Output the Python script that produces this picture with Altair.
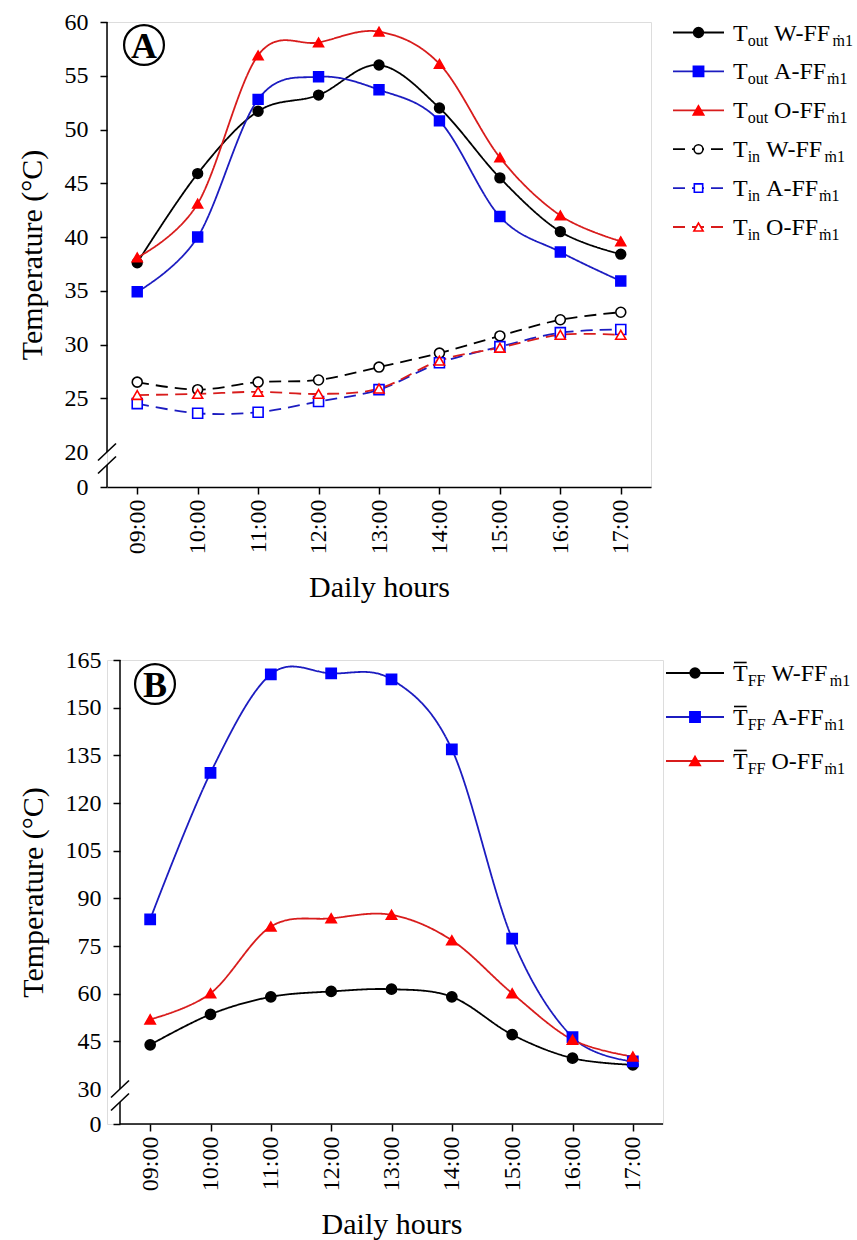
import altair as alt
import pandas as pd

# ---------------------------------------------------------------- data
hours = ["09:00", "10:00", "11:00", "12:00", "13:00",
         "14:00", "15:00", "16:00", "17:00"]

# Panel A: outlet and inlet temperatures (°C)
t_out_w = [37.6, 45.9, 51.7, 53.2, 56.0, 52.0, 45.5, 40.5, 38.4]
t_out_a = [34.9, 40.0, 52.8, 54.9, 53.7, 50.8, 41.9, 38.6, 35.9]
t_out_o = [38.1, 43.1, 56.9, 58.1, 59.1, 56.1, 47.4, 42.0, 39.6]
t_in_w = [26.5, 25.8, 26.5, 26.7, 27.9, 29.2, 30.8, 32.3, 33.0]
t_in_a = [24.5, 23.6, 23.7, 24.7, 25.8, 28.3, 29.8, 31.1, 31.4]
t_in_o = [25.3, 25.4, 25.6, 25.4, 25.9, 28.5, 29.7, 30.9, 30.9]

# Panel B: mean fluid temperature (°C)
t_ff_w = [43.9, 53.5, 59.0, 60.7, 61.4, 59.0, 47.1, 39.7, 37.6]
t_ff_a = [83.4, 129.5, 160.5, 160.8, 158.9, 136.9, 77.3, 46.3, 38.7]
t_ff_o = [51.9, 60.1, 81.1, 83.7, 84.8, 76.8, 60.1, 45.5, 40.2]

ticks_a = [0, 20, 25, 30, 35, 40, 45, 50, 55, 60]
ticks_b = [0, 30, 45, 60, 75, 90, 105, 120, 135, 150, 165]

# ---------------------------------------------------------------- style
FONT = "Liberation Serif"
BLACK, BLUE, RED = "#000000", "#0000ff", "#ff0000"
LINE_BLUE, LINE_RED = "#1c1cc0", "#d81c1c"
SOLID, DASH = [1, 0], [12, 7]

LABEL_SIZE, TITLE_SIZE = 24, 30
LEG_SIZE, SUB_SIZE = 24, 16

# panel A: plot 544 x 465, y axis on the left edge
W_A, H_A, X0_A = 544, 465, 0
# panel B: y axis sits 13 px inside the group (wider tick labels)
W_B, H_B, X0_B = 556, 464, 13

# Times-like advance widths (em) for legend text layout
CHAR_W = {"T": .611, "o": .5, "u": .5, "t": .278, "i": .278, "n": .5,
          "W": .944, "A": .722, "O": .722, "-": .333, "F": .556,
          "\u1e41": .778, "1": .5, " ": .25}


def text_w(s, size):
    return sum(CHAR_W.get(c, .5) for c in s) * size


def long_table(names, series):
    rows = []
    for name, vals in zip(names, series):
        for h, v in zip(hours, vals):
            rows.append({"hour": h, "value": v, "series": name})
    return pd.DataFrame(rows)


def x_enc(x0, width, native_domain):
    return alt.X(
        "hour:N", sort=hours,
        scale=alt.Scale(type="point", padding=0.5, range=[x0, width]),
        axis=alt.Axis(title="Daily hours", labelAngle=-90, labelFontSize=LABEL_SIZE,
                      titleFontSize=TITLE_SIZE, titleFontWeight="normal",
                      titleX=(x0 + width) / 2,
                      titlePadding=19, tickSize=7, labelPadding=5, grid=False,
                      domain=native_domain,
                      domainColor=BLACK, tickColor=BLACK, labelColor=BLACK,
                      titleColor=BLACK, domainWidth=1.5, tickWidth=1.5,
                      labelFont=FONT, titleFont=FONT),
    )


def y_enc(ticks, brk, top, height, x0):
    return alt.Y(
        "value:Q",
        scale=alt.Scale(domain=[0, brk, top], range=[height, height - 35, 0],
                        nice=False, zero=False),
        axis=alt.Axis(title="Temperature (°C)", values=ticks, domain=False, grid=False,
                      offset=-x0,
                      labelFontSize=LABEL_SIZE, titleFontSize=TITLE_SIZE,
                      titleFontWeight="normal", titlePadding=17, tickSize=7,
                      labelPadding=12, tickWidth=1.5, labelColor=BLACK,
                      titleColor=BLACK, labelFont=FONT, titleFont=FONT,
                      tickColor={"condition": {"test": f"datum.value === {brk}",
                                               "value": "transparent"},
                                 "value": BLACK}),
    )


def series_layers(df, names, line_cols, dashes, shapes, fills, strokes, sizes, xenc, yenc):
    lines = alt.Chart(df).mark_line(interpolate="cardinal", strokeWidth=1.8).encode(
        x=xenc, y=yenc,
        color=alt.Color("series:N", scale=alt.Scale(domain=names, range=line_cols), legend=None),
        strokeDash=alt.StrokeDash("series:N", scale=alt.Scale(domain=names, range=dashes), legend=None),
    )
    pts = alt.Chart(df).mark_point(opacity=1, fillOpacity=1, strokeWidth=1.6).encode(
        x=xenc, y=yenc,
        shape=alt.Shape("series:N", scale=alt.Scale(domain=names, range=shapes), legend=None),
        fill=alt.Fill("series:N", scale=alt.Scale(domain=names, range=fills), legend=None),
        stroke=alt.Stroke("series:N", scale=alt.Scale(domain=names, range=strokes), legend=None),
        size=alt.Size("series:N", scale=alt.Scale(domain=names, range=sizes), legend=None),
    )
    return [lines, pts]


def axis_lines(x0, width, height, draw_x_domain):
    # y-axis line drawn in two pieces with a double slash between them
    seg = pd.DataFrame({"k": [0]})
    y1 = height - 35
    y2 = height - 22
    base = alt.Chart(seg)
    parts = [
        base.mark_rule(color=BLACK, strokeWidth=1.5).encode(
            x=alt.value(x0), y=alt.value(0), y2=alt.value(y1)),
        base.mark_rule(color=BLACK, strokeWidth=1.5).encode(
            x=alt.value(x0), y=alt.value(y2), y2=alt.value(height)),
    ]
    for yc in (y1, y2):
        parts.append(base.mark_rule(color=BLACK, strokeWidth=1.6).encode(
            x=alt.value(x0 - 9), x2=alt.value(x0 + 9),
            y=alt.value(yc + 8.5), y2=alt.value(yc - 8.5)))
    if draw_x_domain:
        parts.append(base.mark_rule(color=BLACK, strokeWidth=1.5).encode(
            x=alt.value(x0), x2=alt.value(width), y=alt.value(height)))
    return parts


def panel_tag(letter, cx, cy):
    d = pd.DataFrame({"t": [letter]})
    ring = alt.Chart(d).mark_point(shape="circle", size=1590, filled=False,
                                   stroke=BLACK, strokeWidth=2.2, opacity=1).encode(
        x=alt.value(cx), y=alt.value(cy))
    txt = alt.Chart(d).mark_text(font=FONT, fontSize=36, fontWeight="bold",
                                 align="center", baseline="alphabetic", color=BLACK).encode(
        x=alt.value(cx), y=alt.value(cy + 12.5), text="t:N")
    return [ring, txt]


def legend_layers(entries, line_x0, line_x1, text_x, row0, step, overbar=False):
    texts, solid_rules, dash_rules, marks, bars = [], [], [], [], []
    for i, (sub, name, lcol, mcol, shape, dashed, filled, msize) in enumerate(entries):
        cy = row0 + i * step
        x_sub = text_x + text_w("T", LEG_SIZE)
        x_name = x_sub + text_w(sub, SUB_SIZE) + 6
        x_m = x_name + text_w(name, LEG_SIZE) + 1
        texts += [
            {"px": text_x, "py": cy + 8, "txt": "T", "fs": LEG_SIZE},
            {"px": x_sub, "py": cy + 13, "txt": sub, "fs": SUB_SIZE},
            {"px": x_name, "py": cy + 8, "txt": name, "fs": LEG_SIZE},
            {"px": x_m, "py": cy + 13, "txt": "\u1e41" + "1", "fs": SUB_SIZE},
        ]
        rule = {"px": line_x0, "px2": line_x1, "py": cy, "col": lcol}
        (dash_rules if dashed else solid_rules).append(rule)
        marks.append({"px": (line_x0 + line_x1) / 2, "py": cy, "shp": shape,
                      "fillc": mcol if filled else "#ffffff", "col": mcol, "sz": msize})
        if overbar:
            bars.append({"px": text_x + 1, "px2": text_x + text_w("T", LEG_SIZE) - 1,
                         "py": cy - 10.5})
    layers = []
    px = alt.X("px:Q", scale=None, axis=None)
    py = alt.Y("py:Q", scale=None, axis=None)
    for rules, dash in ((solid_rules, SOLID), (dash_rules, DASH)):
        if rules:
            layers.append(alt.Chart(pd.DataFrame(rules)).mark_rule(
                strokeWidth=1.8, strokeDash=dash).encode(
                x=px, x2="px2:Q", y=py, color=alt.Color("col:N", scale=None)))
    layers.append(alt.Chart(pd.DataFrame(marks)).mark_point(
        opacity=1, fillOpacity=1, strokeWidth=1.6).encode(
        x=px, y=py,
        shape=alt.Shape("shp:N", scale=None),
        fill=alt.Fill("fillc:N", scale=None),
        stroke=alt.Stroke("col:N", scale=None),
        size=alt.Size("sz:Q", scale=None)))
    layers.append(alt.Chart(pd.DataFrame(texts)).mark_text(
        font=FONT, align="left", baseline="alphabetic", color=BLACK).encode(
        x=px, y=py, text="txt:N", size=alt.Size("fs:Q", scale=None)))
    if bars:
        layers.append(alt.Chart(pd.DataFrame(bars)).mark_rule(
            strokeWidth=1.6, color=BLACK).encode(x=px, x2="px2:Q", y=py))
    return layers


# ---------------------------------------------------------------- panel A
names_a = ["out W", "out A", "out O", "in W", "in A", "in O"]
df_a = long_table(names_a, [t_out_w, t_out_a, t_out_o, t_in_w, t_in_a, t_in_o])
layers_a = series_layers(
    df_a, names_a,
    line_cols=[BLACK, LINE_BLUE, LINE_RED, BLACK, LINE_BLUE, LINE_RED],
    dashes=[SOLID, SOLID, SOLID, DASH, DASH, DASH],
    shapes=["circle", "square", "triangle-up", "circle", "square", "triangle-up"],
    fills=[BLACK, BLUE, RED, "#ffffff", "#ffffff", "#ffffff"],
    strokes=[BLACK, BLUE, RED, BLACK, BLUE, RED],
    sizes=[95, 105, 110, 80, 70, 85],
    xenc=x_enc(X0_A, W_A, True),
    yenc=y_enc(ticks_a, 20, 60, H_A, X0_A),
)
legend_a = legend_layers(
    [("out", "W-FF", BLACK, BLACK, "circle", False, True, 95),
     ("out", "A-FF", LINE_BLUE, BLUE, "square", False, True, 105),
     ("out", "O-FF", LINE_RED, RED, "triangle-up", False, True, 110),
     ("in", "W-FF", BLACK, BLACK, "circle", True, False, 80),
     ("in", "A-FF", LINE_BLUE, BLUE, "square", True, False, 70),
     ("in", "O-FF", LINE_RED, RED, "triangle-up", True, False, 85)],
    line_x0=566, line_x1=617, text_x=626, row0=10.5, step=38.9,
)
chart_a = alt.layer(*layers_a, *axis_lines(X0_A, W_A, H_A, False),
                    *panel_tag("A", 37, 23), *legend_a).properties(width=W_A, height=H_A)

# ---------------------------------------------------------------- panel B
names_b = ["FF W", "FF A", "FF O"]
df_b = long_table(names_b, [t_ff_w, t_ff_a, t_ff_o])
layers_b = series_layers(
    df_b, names_b,
    line_cols=[BLACK, LINE_BLUE, LINE_RED],
    dashes=[SOLID, SOLID, SOLID],
    shapes=["circle", "square", "triangle-up"],
    fills=[BLACK, BLUE, RED],
    strokes=[BLACK, BLUE, RED],
    sizes=[95, 105, 110],
    xenc=x_enc(X0_B, W_B, False),
    yenc=y_enc(ticks_b, 30, 165, H_B, X0_B),
)
legend_b = legend_layers(
    [("FF", "W-FF", BLACK, BLACK, "circle", False, True, 95),
     ("FF", "A-FF", LINE_BLUE, BLUE, "square", False, True, 105),
     ("FF", "O-FF", LINE_RED, RED, "triangle-up", False, True, 110)],
    line_x0=559, line_x1=617, text_x=626, row0=13, step=44, overbar=True,
)
chart_b = alt.layer(*layers_b, *axis_lines(X0_B, W_B, H_B, True),
                    *panel_tag("B", 48, 24), *legend_b).properties(width=W_B, height=H_B)

chart = alt.vconcat(chart_a, chart_b, spacing=43).properties(
    padding={"left": 16, "top": 9, "right": 3, "bottom": 5}
).configure_view(stroke=None).configure(font=FONT)

chart.save("out.html", embed_options={"renderer": "svg", "actions": False})
